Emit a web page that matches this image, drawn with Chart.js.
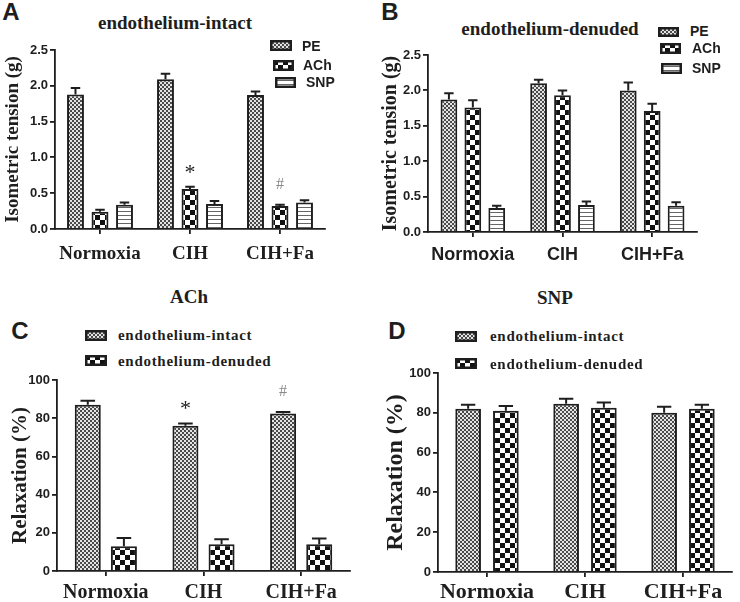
<!DOCTYPE html>
<html>
<head>
<meta charset="utf-8">
<script src="https://cdn.jsdelivr.net/npm/chart.js"></script>
<style>
  body { margin: 0; background: #fff; }
  #wrap { position: relative; width: 740px; height: 602px; overflow: hidden; background: #fff; }
  canvas.plot { position: absolute; }
  canvas.swatch { position: absolute; }
  .t { position: absolute; white-space: nowrap; color: #1e1e1e; line-height: 1; }
  .c { transform: translate(-50%, -50%); }
  .l { transform: translateY(-50%); }
  .sans { font-family: 'Liberation Sans', Arial, sans-serif; font-weight: bold; }
  .serif { font-family: 'Liberation Serif', 'Times New Roman', serif; font-weight: bold; }
  .letter { font-size: 24px; }
  .ttl { font-size: 19px; }
  .lg { font-size: 14px; }
  .lg2 { font-size: 15px; letter-spacing: 0.7px; }
</style>
</head>
<body>
<div id="wrap">
  <canvas id="chartA" class="plot"></canvas>
  <canvas id="chartB" class="plot"></canvas>
  <canvas id="chartC" class="plot"></canvas>
  <canvas id="chartD" class="plot"></canvas>

  <div class="t c sans letter" style="left:11px;top:12px">A</div>
  <div class="t c sans letter" style="left:390px;top:12px">B</div>
  <div class="t c sans letter" style="left:20px;top:331px">C</div>
  <div class="t c sans letter" style="left:397px;top:331px">D</div>

  <div class="t c serif ttl" style="left:175px;top:22px">endothelium-intact</div>
  <div class="t c serif ttl" style="left:550px;top:28px">endothelium-denuded</div>
  <div class="t c serif ttl" style="left:189px;top:296px">ACh</div>
  <div class="t c serif ttl" style="left:555px;top:297px">SNP</div>

  <div class="t l sans lg" style="left:302px;top:46px">PE</div>
  <div class="t l sans lg" style="left:303px;top:65px">ACh</div>
  <div class="t l sans lg" style="left:306px;top:82px">SNP</div>

  <div class="t l sans lg" style="left:690px;top:31px">PE</div>
  <div class="t l sans lg" style="left:692px;top:48px">ACh</div>
  <div class="t l sans lg" style="left:692px;top:68px">SNP</div>

  <div class="t l serif lg2" style="left:118px;top:335px">endothelium-intact</div>
  <div class="t l serif lg2" style="left:118px;top:361px">endothelium-denuded</div>
  <div class="t l serif lg2" style="left:490px;top:336px">endothelium-intact</div>
  <div class="t l serif lg2" style="left:490px;top:364px">endothelium-denuded</div>
</div>

<script>
const groups = ['Normoxia', 'CIH', 'CIH+Fa'];
const tensionTicks = [0, 0.5, 1.0, 1.5, 2.0, 2.5];
const relaxTicks = [0, 20, 40, 60, 80, 100];

// A - endothelium-intact, isometric tension (g)
const intactPE = [1.88, 2.09, 1.87];
const intactPEErr = [0.09, 0.08, 0.05];
const intactACh = [0.24, 0.56, 0.32];
const intactAChErr = [0.03, 0.03, 0.02];
const intactSNP = [0.34, 0.35, 0.37];
const intactSNPErr = [0.03, 0.04, 0.03];
const intactMarks = ['', '*', '#'];

// B - endothelium-denuded, isometric tension (g)
const denudedPE = [1.87, 2.10, 2.00];
const denudedPEErr = [0.09, 0.05, 0.11];
const denudedACh = [1.76, 1.93, 1.71];
const denudedAChErr = [0.10, 0.07, 0.10];
const denudedSNP = [0.34, 0.38, 0.37];
const denudedSNPErr = [0.03, 0.05, 0.05];

// C - ACh relaxation (%)
const achIntact = [87, 76, 82.5];
const achIntactErr = [2.2, 1.2, 0.8];
const achDenuded = [13, 14, 14];
const achDenudedErr = [4.3, 2.6, 3.0];
const achMarks = ['', '*', '#'];

// D - SNP relaxation (%)
const snpIntact = [82, 84.5, 80];
const snpIntactErr = [2.0, 2.6, 3.0];
const snpDenuded = [81, 82.5, 82];
const snpDenudedErr = [2.4, 2.7, 2.0];

const INK = '#1e1e1e';

function makePattern(kind) {
  const c = document.createElement('canvas');
  const g = c.getContext('2d');
  if (kind === 'fine') {
    c.width = c.height = 4;
    g.fillStyle = '#e4e4e4'; g.fillRect(0, 0, 4, 4);
    g.fillStyle = '#4a4a4a'; g.fillRect(0, 0, 2, 2); g.fillRect(2, 2, 2, 2);
  } else if (kind === 'coarse') {
    c.width = c.height = 10;
    g.fillStyle = '#fff'; g.fillRect(0, 0, 10, 10);
    g.fillStyle = '#111'; g.fillRect(0, 0, 5, 5); g.fillRect(5, 5, 5, 5);
  } else {
    c.width = c.height = 4;
    g.fillStyle = '#fff'; g.fillRect(0, 0, 4, 4);
    g.fillStyle = '#666'; g.fillRect(0, 3, 4, 1);
  }
  return g.createPattern(c, 'repeat');
}

const fills = { fine: makePattern('fine'), coarse: makePattern('coarse'), stripe: makePattern('stripe') };

const markStyle = {
  '*': { font: '22px "Liberation Serif"', color: '#222', lift: 14 },
  '#': { font: '16px "Liberation Serif"', color: '#8a8a8a', lift: 20 }
};

// upward error bars with caps + significance marks
const errorBars = {
  id: 'errorBars',
  afterDatasetsDraw(chart, args, opts) {
    const ctx = chart.ctx;
    const y = chart.scales.y;
    ctx.save();
    chart.data.datasets.forEach((ds, di) => {
      const meta = chart.getDatasetMeta(di);
      meta.data.forEach((bar, i) => {
        const top = y.getPixelForValue(ds.data[i] + ds.errors[i]);
        const half = bar.width * 0.28;
        ctx.strokeStyle = INK;
        ctx.lineWidth = 2;
        ctx.beginPath();
        ctx.moveTo(bar.x, bar.y);
        ctx.lineTo(bar.x, top);
        ctx.moveTo(bar.x - half, top);
        ctx.lineTo(bar.x + half, top);
        ctx.stroke();
        if (opts.marks && opts.marks.dataset === di && opts.marks.labels[i]) {
          const m = markStyle[opts.marks.labels[i]];
          ctx.font = m.font;
          ctx.fillStyle = m.color;
          ctx.textAlign = 'center';
          ctx.textBaseline = 'middle';
          ctx.fillText(opts.marks.labels[i], bar.x, top - m.lift);
        }
      });
    });
    ctx.restore();
  }
};

function dataset(label, data, errors, fill, cp, bp) {
  return {
    label, data, errors,
    backgroundColor: fills[fill],
    borderColor: INK,
    borderWidth: 2,
    categoryPercentage: cp,
    barPercentage: bp
  };
}

function makePanel(p) {
  const cv = document.getElementById(p.id);
  const w = p.yW + p.plotW + p.padRight;
  const h = p.padTop + p.plotH + p.xH;
  cv.width = w; cv.height = h;
  cv.style.left = p.left + 'px';
  cv.style.top = p.top + 'px';
  cv.style.width = w + 'px';
  cv.style.height = h + 'px';

  return new Chart(cv.getContext('2d'), {
    type: 'bar',
    data: { labels: groups, datasets: p.datasets },
    plugins: [errorBars],
    options: {
      responsive: false,
      animation: false,
      layout: { padding: { top: p.padTop, right: p.padRight, left: 0, bottom: 0 } },
      plugins: {
        legend: { display: false },
        tooltip: { enabled: false },
        errorBars: { marks: p.marks }
      },
      scales: {
        x: {
          afterFit: s => { s.height = p.xH; },
          ticks: {
            font: { family: p.xFont, weight: 'bold', size: p.xSize, lineHeight: 1 },
            color: INK, padding: p.xPad, maxRotation: 0, autoSkip: false
          },
          grid: { drawOnChartArea: false, offset: false, tickLength: 5, color: INK, lineWidth: 1.8 },
          border: { color: INK, width: 1.8 }
        },
        y: {
          min: 0,
          max: p.ticks[p.ticks.length - 1],
          afterFit: s => { s.width = p.yW; },
          afterBuildTicks: s => { s.ticks = p.ticks.map(v => ({ value: v })); },
          ticks: {
            font: { family: 'Liberation Sans', weight: 'bold', size: 13 },
            color: INK, padding: 2,
            callback: p.fmt
          },
          grid: { drawOnChartArea: false, tickLength: 5, color: INK, lineWidth: 1.8 },
          border: { color: INK, width: 1.8 },
          title: {
            display: true, text: p.yTitle, color: INK,
            font: { family: 'Liberation Serif', weight: 'bold', size: p.yTitleSize, lineHeight: 1 },
            padding: { top: p.yTitlePad, bottom: 0 }
          }
        }
      }
    }
  });
}

const oneDecimal = v => v.toFixed(1);
const plain = v => String(v);

makePanel({
  id: 'chartA', left: 0, top: 40, yW: 55, plotW: 270, padRight: 10, padTop: 10, plotH: 179, xH: 40,
  ticks: tensionTicks, fmt: oneDecimal,
  yTitle: 'Isometric tension (g)', yTitleSize: 19, yTitlePad: 4,
  xFont: 'Liberation Serif', xSize: 19, xPad: 11,
  marks: { dataset: 1, labels: intactMarks },
  datasets: [
    dataset('PE', intactPE, intactPEErr, 'fine', 0.817, 0.69),
    dataset('ACh', intactACh, intactAChErr, 'coarse', 0.817, 0.69),
    dataset('SNP', intactSNP, intactSNPErr, 'stripe', 0.817, 0.69)
  ]
});

makePanel({
  id: 'chartB', left: 370, top: 45, yW: 58, plotW: 269, padRight: 10, padTop: 10, plotH: 177, xH: 40,
  ticks: tensionTicks, fmt: oneDecimal,
  yTitle: 'Isometric tension (g)', yTitleSize: 20, yTitlePad: 11,
  xFont: 'Liberation Sans', xSize: 18, xPad: 9,
  datasets: [
    dataset('PE', denudedPE, denudedPEErr, 'fine', 0.80, 0.70),
    dataset('ACh', denudedACh, denudedAChErr, 'coarse', 0.80, 0.70),
    dataset('SNP', denudedSNP, denudedSNPErr, 'stripe', 0.80, 0.70)
  ]
});

makePanel({
  id: 'chartC', left: 0, top: 370, yW: 57, plotW: 293, padRight: 10, padTop: 10, plotH: 191, xH: 34,
  ticks: relaxTicks, fmt: plain,
  yTitle: 'Relaxation (%)', yTitleSize: 21, yTitlePad: 10,
  xFont: 'Liberation Serif', xSize: 20, xPad: 7,
  marks: { dataset: 0, labels: achMarks },
  datasets: [
    dataset('endothelium-intact', achIntact, achIntactErr, 'fine', 0.74, 0.72),
    dataset('endothelium-denuded', achDenuded, achDenudedErr, 'coarse', 0.74, 0.72)
  ]
});

makePanel({
  id: 'chartD', left: 370, top: 363, yW: 68, plotW: 294, padRight: 6, padTop: 10, plotH: 199, xH: 34,
  ticks: relaxTicks, fmt: plain,
  yTitle: 'Relaxation (%)', yTitleSize: 24, yTitlePad: 14,
  xFont: 'Liberation Serif', xSize: 22, xPad: 4,
  datasets: [
    dataset('endothelium-intact', snpIntact, snpIntactErr, 'fine', 0.77, 0.68),
    dataset('endothelium-denuded', snpDenuded, snpDenudedErr, 'coarse', 0.77, 0.68)
  ]
});

// legend swatches
function swatch(x, y, w, h, fill) {
  const c = document.createElement('canvas');
  c.className = 'swatch';
  c.width = w; c.height = h;
  c.style.left = x + 'px'; c.style.top = y + 'px';
  const g = c.getContext('2d');
  g.fillStyle = fills[fill];
  g.fillRect(0, 0, w, h);
  g.strokeStyle = INK;
  g.lineWidth = 2.5;
  g.strokeRect(1.25, 1.25, w - 2.5, h - 2.5);
  document.getElementById('wrap').appendChild(c);
}

swatch(270, 40, 22, 11, 'fine');
swatch(273, 60, 21, 11, 'coarse');
swatch(275, 77, 21, 11, 'stripe');

swatch(658, 27, 21, 10, 'fine');
swatch(660, 43, 21, 11, 'coarse');
swatch(661, 63, 21, 11, 'stripe');

swatch(85, 330, 22, 11, 'fine');
swatch(85, 355, 22, 11, 'coarse');
swatch(455, 331, 22, 11, 'fine');
swatch(455, 358, 22, 11, 'coarse');
</script>
</body>
</html>
